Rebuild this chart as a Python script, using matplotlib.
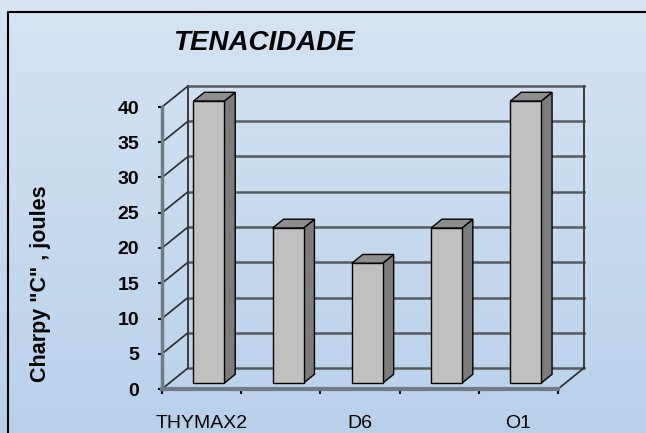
import numpy as np
import matplotlib
matplotlib.use("Agg")
import matplotlib.pyplot as plt
from matplotlib.patches import Polygon

# data
categories = ["THYMAX2", "", "D6", "", "O1"]
values = [40, 22, 17, 22, 40]
y_ticks = [0, 5, 10, 15, 20, 25, 30, 35, 40]

W, H = 646, 433
plt.rcParams['font.family'] = ['Liberation Sans', 'DejaVu Sans']

fig = plt.figure(figsize=(W / 100, H / 100), dpi=100)

# background gradient
bg = fig.add_axes([0, 0, 1, 1])
grad = np.linspace(0, 1, 256).reshape(-1, 1)
top = np.array([214, 228, 243]) / 255
bot = np.array([184, 209, 235]) / 255
img = top + (bot - top) * grad[..., None]
img = np.repeat(img, 2, axis=1)
bg.imshow(img, aspect='auto', extent=[0, 1, 0, 1])
bg.set_xlim(0, 1)
bg.set_ylim(0, 1)
bg.axis('off')
# border
bg.plot([8 / W, 8 / W, 1.01], [-0.01, 1 - 12 / H, 1 - 12 / H], color='black', lw=1.5)

# front plane of the "3d" axes
x0, x1, y0, y1 = 162, 558, 389, 107
ax = fig.add_axes([x0 / W, 1 - y0 / H, (x1 - x0) / W, (y0 - y1) / H])
ax.patch.set_alpha(0)
n = len(values)
ax.set_xlim(0, n)
ax.set_ylim(0, 40)

px_x = (x1 - x0) / n          # pixels per category
px_y = (y0 - y1) / 40         # pixels per unit
DX = 26 / px_x                # depth offset in data units
DY = 21 / px_y


def proj(x, y, d):
    return x + d * DX, y + d * DY


wall_kw = dict(clip_on=False, zorder=1)
# back wall gridlines
for v in y_ticks:
    (xa, ya), (xb, yb) = proj(0, v, 1), proj(n, v, 1)
    ax.plot([xa, xb], [ya, yb], color='#3c3c3c', lw=1.8, alpha=0.8, **wall_kw)
    (xc, yc) = proj(0, v, 0)
    ax.plot([xc, xa], [yc, ya], color='#2a2a2a', lw=1.2, **wall_kw)
# back wall verticals
for xv in (0, n):
    (xa, ya), (xb, yb) = proj(xv, 0, 1), proj(xv, 40, 1)
    ax.plot([xa, xb], [ya, yb], color='#3c3c3c', lw=1.4, **wall_kw)
# floor right edge
(xa, ya), (xb, yb) = proj(n, 0, 0), proj(n, 0, 1)
ax.plot([xa, xb], [ya, yb], color='#2a2a2a', lw=1.2, **wall_kw)

# bars
bw = 0.39
d0, d1 = 0.28, 0.70
for i, v in enumerate(values):
    xl, xr = i + 0.5 - bw / 2, i + 0.5 + bw / 2
    front = [proj(xl, 0, d0), proj(xr, 0, d0), proj(xr, v, d0), proj(xl, v, d0)]
    side = [proj(xr, 0, d0), proj(xr, 0, d1), proj(xr, v, d1), proj(xr, v, d0)]
    topf = [proj(xl, v, d0), proj(xr, v, d0), proj(xr, v, d1), proj(xl, v, d1)]
    for pts, col in ((side, '#7c7c7c'), (topf, '#8e8e8e'), (front, '#c0c0c0')):
        ax.add_patch(Polygon(pts, closed=True, facecolor=col, edgecolor='black',
                             lw=1.0, clip_on=False, zorder=3))

# front axes
for s in ('top', 'right'):
    ax.spines[s].set_visible(False)
ax.spines['left'].set_color('#6e7b88')
ax.spines['left'].set_linewidth(2.5)
ax.spines['bottom'].set_color('#6e7b88')
ax.spines['bottom'].set_linewidth(3)
ax.spines['left'].set_zorder(2)
ax.spines['bottom'].set_zorder(2)

ax.set_yticks(y_ticks)
ax.set_yticklabels([str(t) for t in y_ticks], fontsize=14, fontweight='bold')
ax.tick_params(axis='y', length=3, width=1.5, color='black', pad=13.5)

ax.set_xticks(np.arange(n + 1), minor=True)
ax.set_xticks(np.arange(n) + 0.5)
ax.set_xticklabels(categories, fontsize=14)
ax.tick_params(axis='x', which='major', length=0, pad=19)
ax.tick_params(axis='x', which='minor', length=3.5, width=1.5, color='black')

fig.text(264 / W, 1 - 43 / H, "TENACIDADE", fontsize=20, fontweight='bold',
         fontstyle='italic', ha='center', va='center')
fig.text(41 / W, 1 - 284 / H, 'Charpy "C" , joules', fontsize=15.5,
         fontweight='bold', rotation=90, ha='center', va='center')

fig.savefig("out.png", dpi=100)
